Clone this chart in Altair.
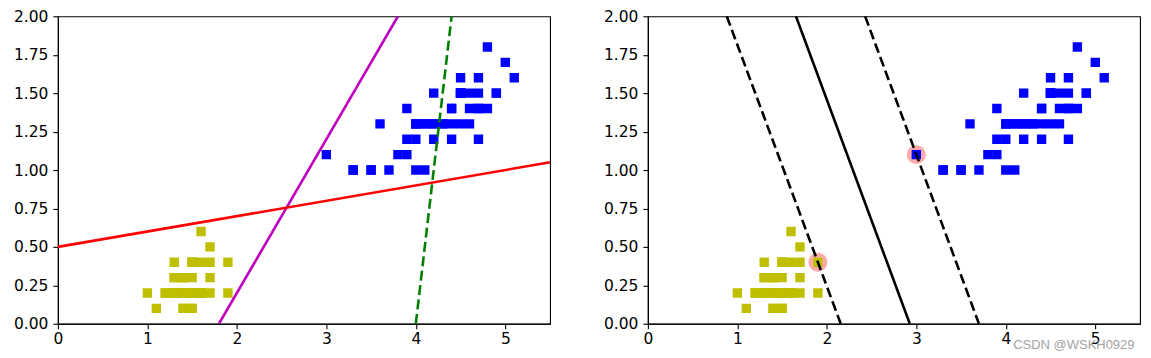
import altair as alt
import pandas as pd

# Iris setosa (yellow) and versicolor (blue): petal length / petal width
setosa_len = [1.4, 1.4, 1.3, 1.5, 1.4, 1.7, 1.4, 1.5, 1.4, 1.5, 1.5, 1.6, 1.4, 1.1, 1.2, 1.5, 1.3, 1.4, 1.7, 1.5,
              1.7, 1.5, 1.0, 1.7, 1.9, 1.6, 1.6, 1.5, 1.4, 1.6, 1.6, 1.5, 1.5, 1.4, 1.5, 1.2, 1.3, 1.4, 1.3, 1.5,
              1.3, 1.3, 1.3, 1.6, 1.9, 1.4, 1.6, 1.4, 1.5, 1.4]
setosa_wid = [0.2, 0.2, 0.2, 0.2, 0.2, 0.4, 0.3, 0.2, 0.2, 0.1, 0.2, 0.2, 0.1, 0.1, 0.2, 0.4, 0.4, 0.3, 0.3, 0.3,
              0.2, 0.4, 0.2, 0.5, 0.2, 0.2, 0.4, 0.2, 0.2, 0.2, 0.2, 0.4, 0.1, 0.2, 0.2, 0.2, 0.2, 0.1, 0.2, 0.2,
              0.3, 0.3, 0.2, 0.6, 0.4, 0.3, 0.2, 0.2, 0.2, 0.2]
vers_len = [4.7, 4.5, 4.9, 4.0, 4.6, 4.5, 4.7, 3.3, 4.6, 3.9, 3.5, 4.2, 4.0, 4.7, 3.6, 4.4, 4.5, 4.1, 4.5, 3.9,
            4.8, 4.0, 4.9, 4.7, 4.3, 4.4, 4.8, 5.0, 4.5, 3.5, 3.8, 3.7, 3.9, 5.1, 4.5, 4.5, 4.7, 4.4, 4.1, 4.0,
            4.4, 4.6, 4.0, 3.3, 4.2, 4.2, 4.2, 4.3, 3.0, 4.1]
vers_wid = [1.4, 1.5, 1.5, 1.3, 1.5, 1.3, 1.6, 1.0, 1.3, 1.4, 1.0, 1.5, 1.0, 1.4, 1.3, 1.4, 1.5, 1.0, 1.5, 1.1,
            1.8, 1.3, 1.5, 1.2, 1.3, 1.4, 1.4, 1.7, 1.5, 1.0, 1.1, 1.0, 1.2, 1.6, 1.5, 1.6, 1.5, 1.3, 1.3, 1.3,
            1.2, 1.4, 1.2, 1.0, 1.3, 1.2, 1.3, 1.3, 1.1, 1.3]

# Left panel: line end points
magenta_x = [1.8, 3.8]
magenta_y = [0.0, 2.0]
green_x = [4.0, 4.4]
green_y = [0.0, 2.0]
red_x = [0.0, 5.5]
red_y = [0.5, 1.05]

# Right panel: decision boundary and margins
boundary_x = [2.927, 1.655]
boundary_y = [0.0, 2.0]
gutter_up_x = [3.700, 2.428]
gutter_up_y = [0.0, 2.0]
gutter_down_x = [2.155, 0.882]
gutter_down_y = [0.0, 2.0]

# Support vectors
sv_x = [1.9, 3.0]
sv_y = [0.4, 1.1]

x_ticks = [0, 1, 2, 3, 4, 5]
y_ticks = [0, 0.25, 0.5, 0.75, 1.0, 1.25, 1.5, 1.75, 2.0]

watermark = "CSDN @WSKH0929"

setosa = pd.DataFrame({"x": setosa_len, "y": setosa_wid})
vers = pd.DataFrame({"x": vers_len, "y": vers_wid})

X = alt.X("x:Q", scale=alt.Scale(domain=[0, 5.5], nice=False, zero=False),
          axis=alt.Axis(values=x_ticks, format="d", title=None, labelPadding=3, labelFlush=False))
Y = alt.Y("y:Q", scale=alt.Scale(domain=[0, 2], nice=False, zero=False),
          axis=alt.Axis(values=y_ticks, format=".2f", title=None, labelPadding=5, labelFlush=False))

W, H = 493, 308
PAD_L, PAD_T, PAD_R, PAD_B = 57, 15, 10, 35


def line(xs, ys, color, dashed=False):
    df = pd.DataFrame({"x": xs, "y": ys})
    kw = dict(color=color, strokeWidth=2.6, clip=True)
    if dashed:
        kw["strokeDash"] = [10, 4.5]
    return alt.Chart(df).mark_line(**kw).encode(x=X, y=Y)


def points(df, color):
    return alt.Chart(df).mark_square(color=color, opacity=1, size=88, clip=True).encode(x=X, y=Y)


dummy = pd.DataFrame({"d": [0]})

# invisible frame guides fixing the overall canvas extent
left_guide = alt.Chart(dummy).mark_rule(strokeOpacity=0, strokeWidth=0.001).encode(
    x=alt.value(-PAD_L), y=alt.value(-PAD_T), y2=alt.value(H + PAD_B))
right_guide = alt.Chart(dummy).mark_rule(strokeOpacity=0, strokeWidth=0.001).encode(
    x=alt.value(W + PAD_R), y=alt.value(-PAD_T), y2=alt.value(H + PAD_B))

left = alt.layer(
    left_guide,
    points(setosa, "#BFBF00"),
    points(vers, "#0000FF"),
    line(magenta_x, magenta_y, "#BF00BF"),
    line(green_x, green_y, "#008000", dashed=True),
    line(red_x, red_y, "#FF0000"),
).properties(width=W, height=H)

sv = pd.DataFrame({"x": sv_x, "y": sv_y})
wm = pd.DataFrame({"t": [watermark]})

right = alt.layer(
    right_guide,
    alt.Chart(sv).mark_circle(color="#FFAAAA", opacity=1, size=360).encode(x=X, y=Y),
    points(setosa, "#BFBF00"),
    points(vers, "#0000FF"),
    line(boundary_x, boundary_y, "black"),
    line(gutter_up_x, gutter_up_y, "black", dashed=True),
    line(gutter_down_x, gutter_down_y, "black", dashed=True),
    alt.Chart(wm).mark_text(align="left", baseline="alphabetic", font="Liberation Sans",
                            fontSize=13, color="#9a9a9a", opacity=0.9).encode(
        x=alt.value(366), y=alt.value(333), text="t:N"),
).properties(width=W, height=H)

chart = alt.hconcat(left, right, spacing=98, bounds="flush").properties(
    padding=0, background="white",
).configure_view(
    stroke="black", strokeWidth=1.1
).configure_axis(
    labelFont="DejaVu Sans", labelFontSize=15.5, labelColor="black",
    tickColor="black", domainColor="black", tickSize=5, tickWidth=1.1,
    domainWidth=1.1, grid=False,
)

chart.save("out.html", embed_options={"renderer": "svg", "actions": False})
